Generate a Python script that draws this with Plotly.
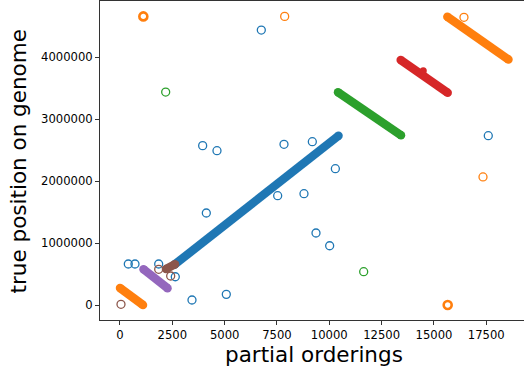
import plotly.graph_objects as go

# colour groups (matplotlib tab10)
colors = {
    "blue": "#1f77b4",
    "orange": "#ff7f0e",
    "green": "#2ca02c",
    "red": "#d62728",
    "purple": "#9467bd",
    "brown": "#8c564b",
}

# contiguous runs: start/end of each run (partial ordering, true position)
blue_seg_x = [2600, 10440]
blue_seg_y = [650000, 2730000]
orange_seg_x = [0, 1100, None, 15640, 18560]
orange_seg_y = [274000, 0, None, 4650000, 3960000]
green_seg_x = [10416, 13426]
green_seg_y = [3431000, 2737000]
red_seg_x = [13411, 15657]
red_seg_y = [3952000, 3424000]
purple_seg_x = [1123, 2270]
purple_seg_y = [577000, 272000]
brown_seg_x = [2198, 2628]
brown_seg_y = [581000, 656000]

# isolated points
blue_pts_x = [397, 717, 1849, 2642, 3440, 5080, 4125, 7534, 3950, 4634,
              6752, 7836, 9190, 10290, 8791, 9365, 10018, 17597]
blue_pts_y = [661000, 661000, 661000, 456000, 81000, 172000, 1484000, 1763000,
              2570000, 2489000, 4435000, 2592000, 2634000, 2198000, 1795000,
              1161000, 956000, 2731000]
orange_pts_x = [7868, 16435, 17344]
orange_pts_y = [4655000, 4640000, 2065000]
orange_stack_x = [1115, 15657]
orange_stack_y = [4655000, 0]
green_pts_x = [2183, 11643]
green_pts_y = [3435000, 537000]
red_pts_x = [14491]
red_pts_y = [3779000]
brown_pts_x = [48, 1849, 2422]
brown_pts_y = [11000, 576000, 468000]

x_ticks = [0, 2500, 5000, 7500, 10000, 12500, 15000, 17500]
y_ticks = [0, 1000000, 2000000, 3000000, 4000000]

fig = go.Figure()

segs = [
    ("blue", blue_seg_x, blue_seg_y),
    ("green", green_seg_x, green_seg_y),
    ("red", red_seg_x, red_seg_y),
    ("orange", orange_seg_x, orange_seg_y),
    ("purple", purple_seg_x, purple_seg_y),
    ("brown", brown_seg_x, brown_seg_y),
]
for name, xs, ys in segs:
    fig.add_trace(go.Scatter(
        x=xs, y=ys, mode="lines+markers",
        line=dict(color=colors[name], width=8.5),
        marker=dict(color=colors[name], size=8.5, symbol="circle", line=dict(width=0)),
        showlegend=False, hoverinfo="skip",
    ))

pts = [
    ("blue", blue_pts_x, blue_pts_y, 1.3),
    ("orange", orange_pts_x, orange_pts_y, 1.3),
    ("orange", orange_stack_x, orange_stack_y, 2.6),
    ("green", green_pts_x, green_pts_y, 1.3),
    ("brown", brown_pts_x, brown_pts_y, 1.3),
]
for name, xs, ys, lw in pts:
    fig.add_trace(go.Scatter(
        x=xs, y=ys, mode="markers",
        marker=dict(symbol="circle-open", size=8, color=colors[name], line=dict(width=lw)),
        showlegend=False,
    ))

fig.add_trace(go.Scatter(
    x=red_pts_x, y=red_pts_y, mode="markers",
    marker=dict(symbol="circle", size=7, color=colors["red"]),
    showlegend=False,
))

fig.update_layout(
    width=524, height=373,
    margin=dict(l=100, r=0, t=1, b=53),
    paper_bgcolor="white", plot_bgcolor="white",
    font=dict(family="DejaVu Sans", color="black"),
    xaxis=dict(
        range=[-955, 19303], tickvals=x_ticks, tickformat="d",
        showgrid=False, zeroline=False, automargin=False,
        showline=True, mirror=True, linecolor="#333", linewidth=1,
        ticks="outside", ticklen=4, tickcolor="#333",
        tickfont=dict(size=11.6),
    ),
    yaxis=dict(
        range=[-241935, 4903226], tickvals=y_ticks, tickformat="d",
        showgrid=False, zeroline=False, automargin=False,
        showline=True, linecolor="#333", linewidth=1,
        ticks="outside", ticklen=4, tickcolor="#333",
        tickfont=dict(size=11.6),
    ),
    annotations=[
        dict(text="partial orderings", xref="paper", yref="paper",
             x=0.505, y=-0.1097, xanchor="center", yanchor="middle",
             showarrow=False, font=dict(size=21.5)),
        dict(text="true position on genome", xref="paper", yref="paper",
             x=(18 - 100) / 424, y=0.497, xanchor="center", yanchor="middle",
             textangle=-90, showarrow=False, font=dict(size=21.5)),
    ],
)

# page body has a default 8px margin; drop it so the figure sits at 0,0
fig.write_html("out.html", config={"displayModeBar": False},
               post_script="document.body.style.margin='0';")
